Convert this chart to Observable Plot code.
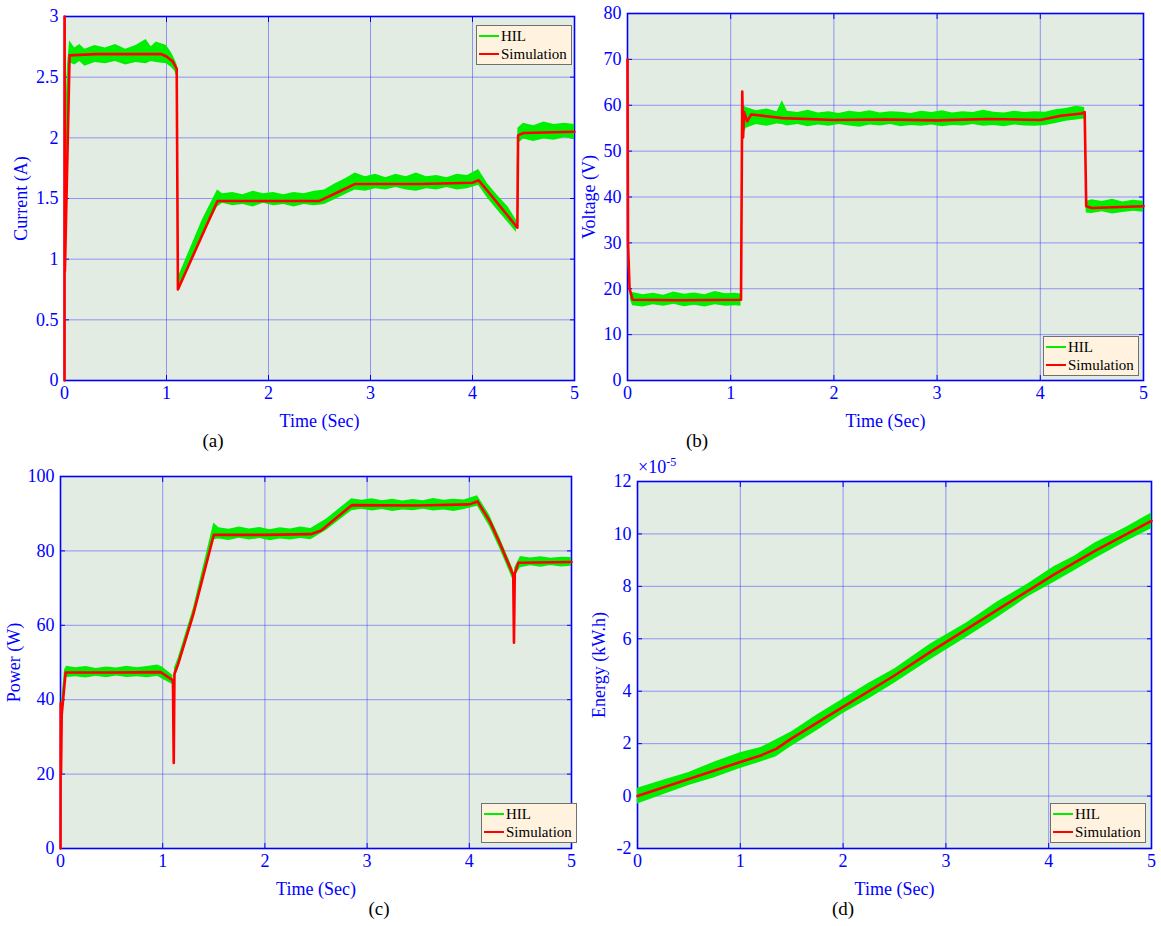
<!DOCTYPE html>
<html>
<head>
<meta charset="utf-8">
<script src="https://cdn.jsdelivr.net/npm/d3@7"></script>
<script src="https://cdn.jsdelivr.net/npm/@observablehq/plot@0.6"></script>
<style>
  html, body { margin: 0; padding: 0; background: #ffffff; }
  #page { position: relative; width: 1161px; height: 926px; overflow: hidden; font-family: "Liberation Serif", "Times New Roman", serif; }
  .panel { position: absolute; }
  .panel svg { overflow: visible; }
  .panel svg, .panel svg text { font-family: "Liberation Serif", "Times New Roman", serif !important; }
  .caption { position: absolute; font-size: 19px; color: #000; transform: translateX(-50%); }
  .legend { position: absolute; background: #fff2df; border: 1px solid #707070; font-size: 15px; color: #000; padding: 1px 4px 1px 2px; line-height: 18px; }
  .legend .row { display: flex; align-items: center; white-space: nowrap; }
  .legend .sw { display: inline-block; width: 20px; height: 2px; margin-right: 2px; }
  .expo { position: absolute; color: #0000ff; font-size: 18px; }
</style>
</head>
<body>
<div id="page"></div>
<script>
// ---------- Data ----------
const timeTicks = [0, 1, 2, 3, 4, 5];

// (a) Current (A)
const curSimT = [0, 0.001, 0.004, 0.05, 0.3, 0.6, 0.95, 1.0, 1.06, 1.1, 1.112, 1.5, 2.0, 2.5, 2.7, 2.85, 3.5, 4.0, 4.06, 4.15, 4.44, 4.447, 4.5, 5.0];
const curSim  = [0, 3.0, 0.9, 2.68, 2.69, 2.69, 2.69, 2.67, 2.63, 2.57, 0.75, 1.48, 1.48, 1.48, 1.56, 1.62, 1.62, 1.63, 1.65, 1.56, 1.26, 2.02, 2.04, 2.05];
const curHilT  = [0, 0.004, 0.03, 0.05, 0.1, 0.15, 0.2, 0.3, 0.4, 0.5, 0.6, 0.7, 0.8, 0.85, 0.9, 1.0, 1.05, 1.08, 1.105, 1.115, 1.2, 1.35, 1.5, 1.55, 1.65, 1.75, 1.85, 1.95, 2.05, 2.15, 2.25, 2.35, 2.45, 2.55, 2.65, 2.75, 2.85, 2.95, 3.05, 3.15, 3.25, 3.35, 3.45, 3.55, 3.65, 3.75, 3.85, 3.95, 4.06, 4.15, 4.25, 4.35, 4.43, 4.445, 4.5, 4.6, 4.7, 4.8, 4.9, 5.0];
const curHilLo = [0, 1.0, 2.0, 2.62, 2.60, 2.63, 2.59, 2.62, 2.61, 2.63, 2.60, 2.62, 2.61, 2.63, 2.62, 2.61, 2.58, 2.55, 2.50, 0.75, 0.90, 1.18, 1.43, 1.46, 1.44, 1.45, 1.43, 1.46, 1.44, 1.45, 1.43, 1.45, 1.44, 1.45, 1.49, 1.53, 1.57, 1.56, 1.58, 1.57, 1.59, 1.57, 1.56, 1.58, 1.57, 1.59, 1.57, 1.58, 1.61, 1.50, 1.40, 1.30, 1.22, 1.95, 1.99, 1.97, 1.99, 1.98, 2.00, 1.99];
const curHilHi = [0.05, 2.0, 2.6, 2.80, 2.74, 2.77, 2.73, 2.76, 2.74, 2.77, 2.73, 2.76, 2.81, 2.75, 2.79, 2.76, 2.70, 2.65, 2.60, 0.85, 1.02, 1.32, 1.57, 1.54, 1.55, 1.53, 1.56, 1.54, 1.55, 1.53, 1.55, 1.54, 1.56, 1.57, 1.62, 1.66, 1.71, 1.68, 1.70, 1.67, 1.70, 1.68, 1.71, 1.68, 1.69, 1.67, 1.70, 1.69, 1.74, 1.62, 1.52, 1.43, 1.32, 2.08, 2.12, 2.10, 2.13, 2.11, 2.12, 2.11];
const curTicks = [0, 0.5, 1, 1.5, 2, 2.5, 3];

// (b) Voltage (V)
const volSimT = [0, 0.005, 0.02, 0.05, 0.5, 1.1, 1.112, 1.12, 1.13, 1.16, 1.2, 1.5, 2.0, 2.5, 3.0, 3.5, 4.0, 4.2, 4.4, 4.43, 4.445, 4.5, 5.0];
const volSim  = [70, 30, 20, 17.6, 17.5, 17.6, 63, 53, 58.5, 56.5, 58, 57.2, 56.8, 56.9, 56.7, 57, 56.8, 57.7, 58.2, 58.5, 38, 37.6, 38];
const volHilT  = [0, 0.005, 0.03, 0.05, 0.15, 0.25, 0.35, 0.45, 0.55, 0.65, 0.75, 0.85, 0.95, 1.05, 1.1, 1.112, 1.12, 1.15, 1.25, 1.35, 1.45, 1.5, 1.55, 1.65, 1.75, 1.85, 1.95, 2.05, 2.15, 2.25, 2.35, 2.45, 2.55, 2.65, 2.75, 2.85, 2.95, 3.05, 3.15, 3.25, 3.35, 3.45, 3.55, 3.65, 3.75, 3.85, 3.95, 4.05, 4.15, 4.25, 4.35, 4.43, 4.445, 4.5, 4.6, 4.7, 4.8, 4.9, 5.0];
const volHilLo = [68, 25, 17.5, 16.3, 16.0, 16.5, 16.2, 16.6, 16.1, 16.4, 16.0, 16.5, 16.2, 16.3, 16.2, 60, 53.5, 55, 55.8, 55.4, 55.9, 55.8, 55.5, 55.8, 55.3, 55.7, 55.4, 55.8, 55.5, 55.2, 55.7, 55.5, 55.8, 55.3, 55.6, 55.4, 55.7, 55.3, 55.6, 55.5, 55.8, 55.4, 55.6, 55.3, 55.7, 55.5, 55.4, 55.6, 56.0, 56.5, 56.8, 57.0, 36.5, 36.4, 36.8, 36.3, 36.6, 36.9, 36.7];
const volHilHi = [70, 30, 19.5, 19.2, 18.7, 19.0, 18.6, 19.3, 18.8, 19.1, 18.7, 19.4, 18.9, 19.0, 18.8, 63.5, 60, 59.5, 58.8, 59.2, 58.6, 61, 58.7, 58.4, 58.9, 58.3, 58.6, 58.2, 58.7, 58.4, 58.8, 58.3, 58.6, 58.5, 58.2, 58.7, 58.4, 58.8, 58.3, 58.6, 58.4, 58.9, 58.5, 58.3, 58.7, 58.4, 58.6, 58.5, 59.0, 59.3, 59.8, 59.5, 39.0, 39.4, 39.0, 39.5, 38.9, 39.3, 39.1];
const volTicks = [0, 10, 20, 30, 40, 50, 60, 70, 80];

// (c) Power (W)
const powSimT = [0, 0.002, 0.005, 0.012, 0.05, 0.5, 0.98, 1.1, 1.108, 1.115, 1.15, 1.3, 1.5, 2.0, 2.45, 2.55, 2.85, 3.5, 4.0, 4.08, 4.2, 4.3, 4.43, 4.437, 4.445, 4.48, 5.0];
const powSim  = [0, 39, 20, 36, 47.3, 47.3, 47.4, 45.2, 23, 47, 49.5, 63, 84.3, 84.3, 84.5, 85.5, 92.3, 92.2, 92.5, 93.3, 88, 82, 73.5, 55.3, 74, 76.8, 77];
const powHilT  = [0, 0.003, 0.012, 0.04, 0.06, 0.15, 0.25, 0.35, 0.45, 0.55, 0.65, 0.75, 0.85, 0.95, 1.0, 1.1, 1.108, 1.115, 1.15, 1.3, 1.5, 1.55, 1.65, 1.75, 1.85, 1.95, 2.05, 2.15, 2.25, 2.35, 2.45, 2.6, 2.85, 2.95, 3.05, 3.15, 3.25, 3.35, 3.45, 3.55, 3.65, 3.75, 3.85, 3.95, 4.08, 4.2, 4.3, 4.43, 4.437, 4.445, 4.5, 4.6, 4.7, 4.8, 4.9, 5.0];
const powHilLo = [0, 20, 30, 44, 46, 46.2, 45.8, 46.3, 45.9, 46.4, 46.0, 46.2, 45.9, 46.3, 45.5, 44, 22.5, 45.5, 48, 61.5, 83, 83.2, 82.8, 83.4, 82.9, 83.3, 82.7, 83.2, 82.9, 83.3, 83, 85.5, 90.8, 91.2, 90.7, 91.1, 90.6, 91.0, 90.8, 91.2, 90.7, 91.0, 90.6, 91.1, 92, 86.5, 80.5, 72, 54.8, 73, 75.5, 76.0, 75.6, 76.1, 75.7, 75.9];
const powHilHi = [2, 38, 40, 48, 49, 48.6, 48.9, 48.4, 48.8, 48.5, 49.0, 48.6, 48.9, 49.3, 48.7, 46.5, 25, 48.5, 51, 64.5, 87.5, 86.2, 85.8, 86.4, 85.9, 86.3, 85.7, 86.2, 85.9, 86.4, 86, 88.5, 94, 93.6, 94.0, 93.5, 93.9, 93.4, 93.8, 93.5, 94.1, 93.6, 93.9, 93.7, 94.8, 89.5, 83.5, 75, 56, 75.5, 78.5, 78.1, 78.4, 78.0, 78.3, 78.2];
const powTicks = [0, 20, 40, 60, 80, 100];

// (d) Energy (x10^-5 kW.h)
const eneSimT = [0, 0.5, 1.0, 1.2, 1.35, 1.5, 2.0, 2.5, 2.85, 3.5, 4.05, 4.45, 5.0];
const eneSim  = [0, 0.65, 1.3, 1.55, 1.8, 2.2, 3.4, 4.6, 5.5, 7.1, 8.45, 9.35, 10.5];
const eneHilT  = [0, 0.25, 0.5, 0.75, 1.0, 1.2, 1.35, 1.5, 1.75, 2.0, 2.25, 2.5, 2.85, 3.2, 3.5, 3.8, 4.05, 4.25, 4.45, 4.75, 5.0];
const eneHilLo = [-0.3, 0.05, 0.4, 0.7, 1.05, 1.3, 1.5, 1.9, 2.5, 3.15, 3.7, 4.3, 5.2, 6.05, 6.8, 7.6, 8.15, 8.6, 9.05, 9.7, 10.2];
const eneHilHi = [0.3, 0.6, 0.9, 1.3, 1.65, 1.85, 2.15, 2.45, 3.1, 3.7, 4.3, 4.85, 5.8, 6.6, 7.4, 8.1, 8.75, 9.15, 9.65, 10.25, 10.8];
const eneTicks = [-2, 0, 2, 4, 6, 8, 10, 12];

const seriesNames = ["HIL", "Simulation"];
const seriesColors = ["#00ee00", "#ff0000"];

// ---------- Drawing ----------
const page = document.getElementById("page");
const BLUE = "#0000ff";

function zip(ts, a, b) { return ts.map((t, i) => ({t, lo: a[i], hi: b[i]})); }
function zip1(ts, v) { return ts.map((t, i) => ({t, v: v[i]})); }

function panel(cfg) {
  const hil = zip(cfg.hilT, cfg.hilLo, cfg.hilHi);
  const sim = zip1(cfg.simT, cfg.sim);
  const fmt = d => String(d);
  const chart = Plot.plot({
    width: cfg.w, height: cfg.h,
    marginLeft: cfg.ml, marginRight: cfg.mr, marginTop: cfg.mt, marginBottom: cfg.mb,
    style: {background: "transparent", fontFamily: "'Liberation Serif', 'Times New Roman', serif", fontSize: "18px", color: BLUE},
    x: {domain: [0, 5]},
    y: {domain: cfg.yDomain},
    marks: [
      Plot.frame({fill: "#e3ece3", stroke: null}),
      Plot.gridX(timeTicks, {stroke: "#2a2aff", strokeOpacity: 0.45, strokeWidth: 1}),
      Plot.gridY(cfg.yTicks, {stroke: "#2a2aff", strokeOpacity: 0.45, strokeWidth: 1}),
      Plot.frame({stroke: BLUE, strokeWidth: 1.6}),
      Plot.axisX(timeTicks, {anchor: "bottom", tickSize: -5, text: null, stroke: BLUE, label: null}),
      Plot.axisX(timeTicks, {anchor: "top", tickSize: -5, text: null, stroke: BLUE, label: null}),
      Plot.axisY(cfg.yTicks, {anchor: "left", tickSize: -5, text: null, stroke: BLUE, label: null}),
      Plot.axisY(cfg.yTicks, {anchor: "right", tickSize: -5, text: null, stroke: BLUE, label: null}),
      Plot.areaY(hil, {x: "t", y1: "lo", y2: "hi", fill: seriesColors[0], curve: "linear"}),
      Plot.line(sim, {x: "t", y: "v", stroke: seriesColors[1], strokeWidth: 2.6}),
      Plot.axisX(timeTicks, {tickSize: 0, tickPadding: 6, tickFormat: fmt, stroke: BLUE, fill: BLUE,
        label: "Time (Sec)", labelAnchor: "center", labelArrow: "none", labelOffset: cfg.xlo, fontSize: 18}),
      Plot.axisY(cfg.yTicks, {tickSize: 0, tickPadding: 6, tickFormat: fmt, stroke: BLUE, fill: BLUE,
        label: cfg.yLabel, labelAnchor: "center", labelArrow: "none", labelOffset: cfg.ylo, fontSize: 18})
    ]
  });
  const div = document.createElement("div");
  div.className = "panel";
  div.style.left = cfg.left + "px";
  div.style.top = cfg.top + "px";
  div.appendChild(chart);
  page.appendChild(div);
}

function legend(left, top) {
  const d = document.createElement("div");
  d.className = "legend";
  d.style.left = left + "px"; d.style.top = top + "px";
  seriesNames.forEach((n, i) => {
    const r = document.createElement("div"); r.className = "row";
    const s = document.createElement("span"); s.className = "sw"; s.style.background = seriesColors[i];
    r.appendChild(s); r.appendChild(document.createTextNode(n));
    d.appendChild(r);
  });
  page.appendChild(d);
}
function caption(text, x, y) {
  const c = document.createElement("div"); c.className = "caption";
  c.style.left = x + "px"; c.style.top = y + "px"; c.textContent = text;
  page.appendChild(c);
}

panel({left: 0, top: 0, w: 590, h: 445, ml: 64, mr: 16, mt: 16, mb: 65,
  simT: curSimT, sim: curSim, hilT: curHilT, hilLo: curHilLo, hilHi: curHilHi,
  yDomain: [0, 3], yTicks: curTicks, yLabel: "Current (A)", ylo: 50, xlo: 46});
panel({left: 580, top: 0, w: 581, h: 445, ml: 47, mr: 18, mt: 13, mb: 65,
  simT: volSimT, sim: volSim, hilT: volHilT, hilLo: volHilLo, hilHi: volHilHi,
  yDomain: [0, 80], yTicks: volTicks, yLabel: "Voltage (V)", ylo: 45, xlo: 46});
panel({left: 0, top: 450, w: 590, h: 476, ml: 60, mr: 19, mt: 26, mb: 78,
  simT: powSimT, sim: powSim, hilT: powHilT, hilLo: powHilLo, hilHi: powHilHi,
  yDomain: [0, 100], yTicks: powTicks, yLabel: "Power (W)", ylo: 53, xlo: 46});
panel({left: 580, top: 450, w: 581, h: 476, ml: 57, mr: 10, mt: 31, mb: 78,
  simT: eneSimT, sim: eneSim, hilT: eneHilT, hilLo: eneHilLo, hilHi: eneHilHi,
  yDomain: [-2, 12], yTicks: eneTicks, yLabel: "Energy (kW.h)", ylo: 45, xlo: 46});

legend(476, 25);
legend(1043, 336);
legend(481, 803);
legend(1050, 803);

caption("(a)", 213, 430);
caption("(b)", 697, 430);
caption("(c)", 379, 898);
caption("(d)", 843, 898);

const ex = document.createElement("div"); ex.className = "expo";
ex.style.left = "638px"; ex.style.top = "455px";
ex.innerHTML = "×10<sup style='font-size:12px'>-5</sup>";
page.appendChild(ex);
</script>
</body>
</html>
